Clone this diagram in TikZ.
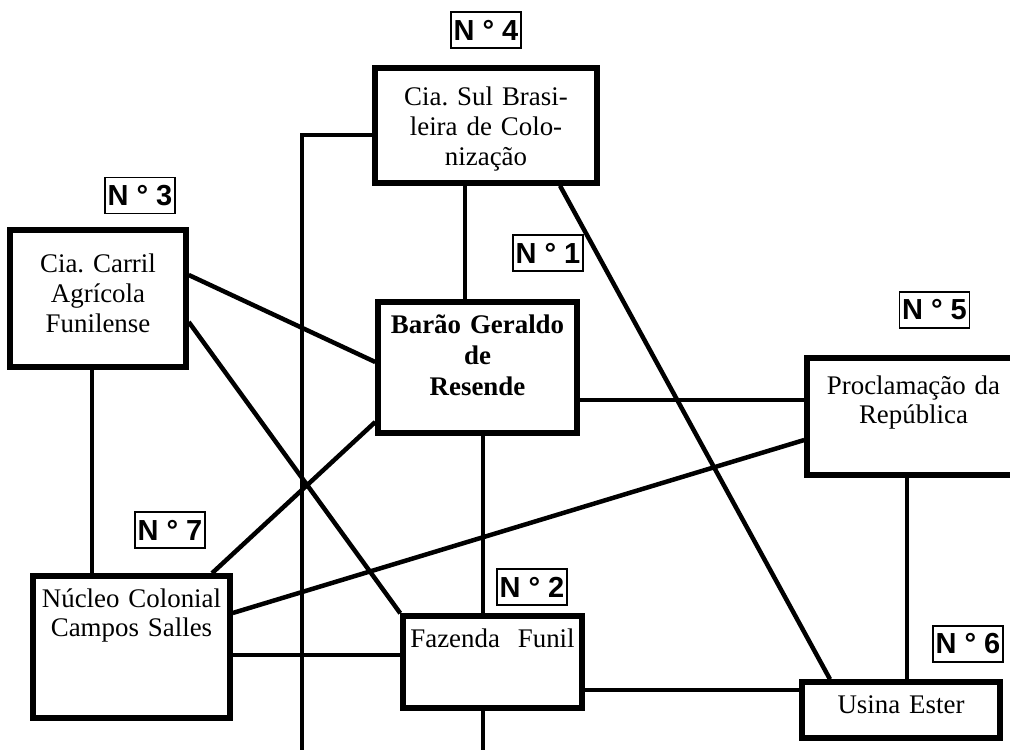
\documentclass[tikz,border=0pt]{standalone}
\usepackage{fontspec}
\setmainfont{Liberation Serif}
\setsansfont{Liberation Sans}
\usetikzlibrary{positioning,calc}
\tikzstyle{block} = [draw, rectangle, line width=0.11cm, align=center, inner sep=0pt,
    text height=0.62cm, font=\fontsize{15.3}{17}\selectfont\frenchspacing]
\tikzstyle{tag} = [draw, rectangle, line width=0.03cm, inner xsep=1.5pt, inner ysep=4.5pt,
    font=\sffamily\bfseries\fontsize{16.5}{18}\selectfont]
\tikzstyle{link} = [draw, line width=0.09cm]
\tikzstyle{output} = [coordinate]

\begin{document}
\begin{tikzpicture}[node distance=2cm]
    \useasboundingbox (0,0) rectangle (20.2,15);
    \node [block, text width=4.44cm, text height=0.76cm, text depth=1.54cm] (sul) at (9.72,12.49) {Cia. Sul Brasi-\\leira de Colo-\\nização};
    \node [tag, above of=sul, node distance=1.91cm] (n4) {N ° 4};
    \node [block, text width=3.52cm, text height=0.86cm, text depth=1.88cm] (carril) at (1.96,9.03) {Cia. Carril\\Agrícola\\Funilense};
    \node [tag] (n3) at (2.80,11.09) {N ° 3};
    \node [block, text width=3.98cm, text depth=2.00cm,
            font=\fontsize{15.3}{17.8}\selectfont\bfseries] (barao) at (9.55,7.65) {Barão Geraldo\\de\\Resende};
    \node [tag] (n1) at (10.96,9.94) {N ° 1};
    \node [block, text width=4.26cm, text height=0.72cm, text depth=1.62cm] (procl) at (18.27,6.67) {Proclamação da\\República};
    \node [tag] (n5) at (18.69,8.80) {N ° 5};
    \node [block, text width=3.94cm, text depth=2.22cm] (nucleo) at (2.63,2.06) {Núcleo Colonial\\Campos Salles};
    \node [tag] (n7) at (3.40,4.40) {N ° 7};
    \node [block, text width=3.58cm, text depth=1.22cm] (fazenda) at (9.85,1.76) {Fazenda~~Funil};
    \node [tag] (n2) at (10.64,3.26) {N ° 2};
    \node [block, text width=3.96cm, text depth=0.50cm] (usina) at (18.02,0.80) {Usina Ester};
    \node [tag] (n6) at (19.36,2.12) {N ° 6};

    \coordinate (sul_bar) at ([xshift=-0.25cm]barao.north);
    \draw [link] (sul_bar) -- (sul_bar |- sul.south);
    \coordinate (rail_end) at (6.04,0);
    \draw [link] ([yshift=-0.19cm]sul.west) -| (rail_end);
    \draw [link] ([xshift=1.48cm]sul.south) -- ([xshift=-1.42cm]usina.north);

    \draw [link] ([yshift=0.47cm]carril.east) -- ([yshift=0.11cm]barao.west);
    \draw [link] ([yshift=-0.47cm]carril.east) -- (fazenda.north west);
    \coordinate (carril_bot) at ([xshift=-0.12cm]carril.south);
    \draw [link] (carril_bot) -- (carril_bot |- nucleo.north);

    \draw [link] ([yshift=-1.09cm]barao.west) -- ([xshift=1.61cm]nucleo.north);
    \coordinate (barao_r) at ([yshift=-0.65cm]barao.east);
    \draw [link] (barao_r) -- (barao_r -| procl.west);
    \coordinate (barao_b) at ([xshift=0.11cm]barao.south);
    \draw [link] (barao_b) -- (barao_b |- fazenda.north);

    \draw [link] ([yshift=-0.47cm]procl.west) -- ([yshift=0.68cm]nucleo.east);
    \coordinate (procl_b) at ([xshift=-0.13cm]procl.south);
    \draw [link] (procl_b) -- (procl_b |- usina.north);
    \coordinate (nucleo_r) at ([yshift=-0.16cm]nucleo.east);
    \draw [link] (nucleo_r) -- (nucleo_r -| fazenda.west);
    \coordinate (fazenda_r) at ([yshift=-0.56cm]fazenda.east);
    \draw [link] (fazenda_r) -- (fazenda_r -| usina.west);
    \coordinate (funil_end) at (9.66,0);
    \draw [link] (funil_end |- fazenda.south) -- (funil_end);
\end{tikzpicture}
\end{document}
